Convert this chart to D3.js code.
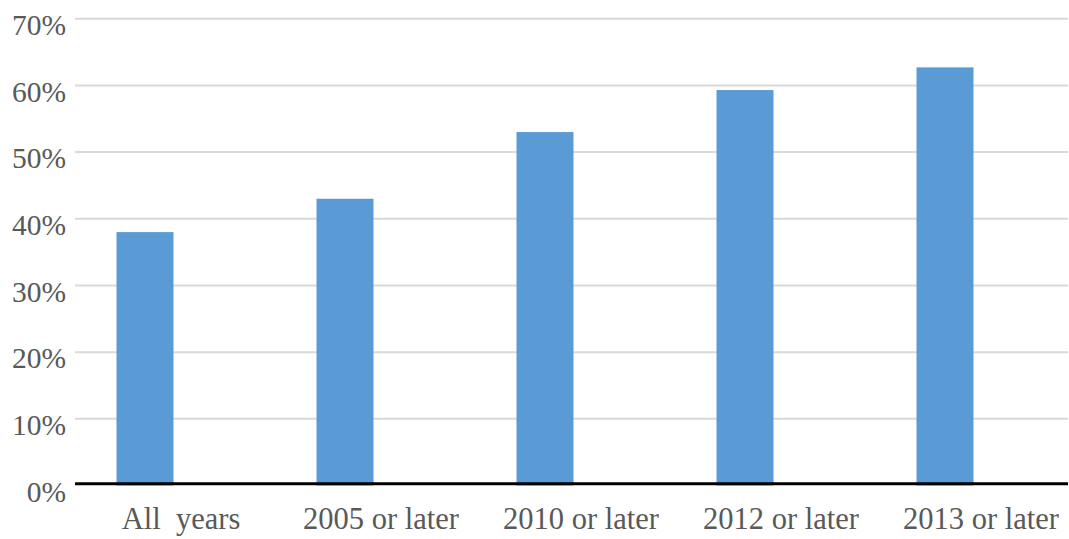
<!DOCTYPE html>
<html><head><meta charset="utf-8">
<script src="https://cdn.jsdelivr.net/npm/d3@7"></script>
<style>html,body{margin:0;padding:0;background:#fff;}svg{display:block;}
svg text{font-family:'Liberation Serif','Times New Roman',serif !important;}</style>
</head><body>
<svg id="c" width="1069" height="539"></svg>
<script>
const categories = ["All  years", "2005 or later", "2010 or later", "2012 or later", "2013 or later"];
const values = [0.38, 0.43, 0.53, 0.593, 0.627];
const yTicks = [0, 0.1, 0.2, 0.3, 0.4, 0.5, 0.6, 0.7];

const svg = d3.select("#c");
const y = d3.scaleLinear().domain([0, 0.7]).range([485.5, 18.7]);
const x = d3.scaleBand().domain(categories).range([45, 1045]).paddingInner(0.715).paddingOuter(0.3575);
const gridX0 = 75, gridX1 = 1068;

// gridlines
svg.append("g").selectAll("line").data(yTicks.filter(d => d > 0)).join("line")
  .attr("x1", gridX0).attr("x2", gridX1)
  .attr("y1", d => y(d)).attr("y2", d => y(d))
  .attr("stroke", "#d9d9d9").attr("stroke-width", 2);

// bars
svg.append("g").selectAll("rect").data(values).join("rect")
  .attr("x", (d, i) => x(categories[i]))
  .attr("width", x.bandwidth())
  .attr("y", d => y(d))
  .attr("height", d => y(0) - y(d))
  .attr("fill", "#5b9bd5");

// baseline
svg.append("line").attr("x1", gridX0).attr("x2", gridX1)
  .attr("y1", y(0) - 1.8).attr("y2", y(0) - 1.8)
  .attr("stroke", "#000").attr("stroke-width", 3);

// y tick labels
const yAxis = d3.axisLeft(y).tickValues(yTicks).tickFormat(d3.format(".0%")).tickSize(0).tickPadding(0);
const gy = svg.append("g").attr("transform", "translate(66,0)").call(yAxis);
gy.attr("font-family", null);
gy.select(".domain").remove();
gy.selectAll("text").attr("font-size", 29.5)
  .attr("fill", "#595959").attr("dy", "0.53em").attr("text-anchor", "end");

// x labels (offset right of bars as in reference)
const xAxis = d3.axisBottom(x).tickSize(0).tickPadding(0);
const gx = svg.append("g").attr("transform", "translate(36,0)").call(xAxis);
gx.attr("font-family", null);
gx.select(".domain").remove();
gx.selectAll("text").attr("font-size", 30.5)
  .attr("fill", "#595959").attr("y", 529).attr("dy", 0)
  .style("white-space", "pre");
</script>
</body></html>
